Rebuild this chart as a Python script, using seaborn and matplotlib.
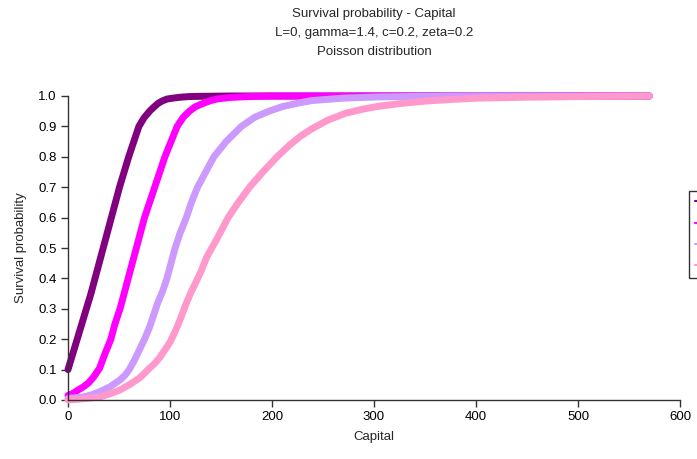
import matplotlib
matplotlib.use("Agg")
import matplotlib.pyplot as plt
import seaborn as sns
import pandas as pd
from matplotlib.lines import Line2D

# ---- data ----
series_names = ["Series1", "Series2", "Series3", "Series4"]
colors = ["#800080", "#FF00FF", "#CC99FF", "#FF99CC"]

x_s1 = [0, 4.5, 9, 13.5, 18, 22.5, 26.5, 30.5, 34.5, 38.5, 42.5, 46.5, 50.5, 55, 59.5, 64.5,
        69.5, 74.5, 80, 84, 88, 92, 97, 103, 110, 118, 130, 160, 200, 300, 400, 500, 570]
y_s1 = [0.1, 0.15, 0.2, 0.25, 0.3, 0.35, 0.4, 0.45, 0.5, 0.55, 0.6, 0.65, 0.7, 0.75, 0.8, 0.85,
        0.9, 0.928, 0.95, 0.963, 0.975, 0.983, 0.99, 0.993, 0.996, 0.998, 0.999, 1.0, 1.0, 1.0,
        1.0, 1.0, 1.0]

x_s2 = [0, 5, 10, 15, 20, 25, 28, 31, 36, 42, 46, 51, 55, 59, 63, 67, 71, 75, 80, 85, 90, 95,
        101, 107, 113, 119, 125, 132, 139, 146, 158, 170, 185, 200, 300, 400, 500, 570]
y_s2 = [0.015, 0.022, 0.033, 0.043, 0.056, 0.075, 0.09, 0.105, 0.15, 0.2, 0.25, 0.3, 0.35, 0.4,
        0.45, 0.5, 0.55, 0.6, 0.65, 0.7, 0.75, 0.8, 0.85, 0.9, 0.93, 0.95, 0.965, 0.975, 0.984,
        0.99, 0.995, 0.997, 0.999, 1.0, 1.0, 1.0, 1.0, 1.0]

x_s3 = [0, 15, 23, 31, 41, 51, 56, 60, 65, 70, 75, 80, 84, 88, 93, 97, 101, 105, 110, 116, 121,
        127, 135, 143, 155, 170, 183, 197, 210, 226, 239, 270, 304, 350, 400, 500, 570]
y_s3 = [0.005, 0.01, 0.017, 0.027, 0.043, 0.066, 0.082, 0.1, 0.13, 0.165, 0.2, 0.24, 0.28, 0.32,
        0.36, 0.4, 0.45, 0.5, 0.55, 0.6, 0.65, 0.7, 0.75, 0.8, 0.85, 0.9, 0.93, 0.95, 0.965,
        0.977, 0.985, 0.993, 0.997, 0.999, 1.0, 1.0, 1.0]

x_s4 = [0, 15, 31, 41, 51, 60, 70, 75, 80, 85, 90, 95, 100, 105, 110, 115, 120, 125, 130, 136,
        146, 157, 167, 178, 191, 205, 217, 228, 239, 255, 272, 288, 304, 328, 353, 378, 402, 450,
        500, 570]
y_s4 = [0.0, 0.004, 0.01, 0.02, 0.033, 0.05, 0.072, 0.088, 0.105, 0.12, 0.14, 0.165, 0.19, 0.225,
        0.265, 0.31, 0.35, 0.385, 0.42, 0.47, 0.53, 0.6, 0.65, 0.7, 0.75, 0.8, 0.838, 0.868, 0.892,
        0.921, 0.943, 0.956, 0.966, 0.976, 0.984, 0.989, 0.993, 0.996, 0.998, 1.0]

title_lines = ["Survival probability - Capital",
               "L=0, gamma=1.4, c=0.2, zeta=0.2",
               "Poisson distribution"]
x_ticks = [0, 100, 200, 300, 400, 500, 600]
y_ticks = [0.0, 0.1, 0.2, 0.3, 0.4, 0.5, 0.6, 0.7, 0.8, 0.9, 1.0]

# ---- build long table ----
frames = []
for name, xs, ys in zip(series_names, [x_s1, x_s2, x_s3, x_s4], [y_s1, y_s2, y_s3, y_s4]):
    frames.append(pd.DataFrame({"Capital": xs, "Survival probability": ys, "series": name}))
df = pd.concat(frames, ignore_index=True)

sns.set_theme(style="white")
plt.rcParams["font.family"] = ["Liberation Sans", "DejaVu Sans"]

W, H = 697, 459
fig = plt.figure(figsize=(W / 100, H / 100), dpi=100)
ax = fig.add_axes([68 / W, 1 - 400 / H, 612 / W, 304 / H])

sns.lineplot(data=df, x="Capital", y="Survival probability", hue="series",
             palette=dict(zip(series_names, colors)), hue_order=series_names,
             linewidth=5.0, ax=ax, legend=False, sort=False, estimator=None)
for line in ax.lines:
    line.set_solid_capstyle("round")
    line.set_solid_joinstyle("round")
    line.set_clip_on(False)

ax.set_xlim(0, 600)
ax.set_ylim(0, 1.0)
ax.set_xticks(x_ticks)
ax.set_yticks(y_ticks)
ax.set_xticklabels([str(t) for t in x_ticks], fontsize=9.5)
ax.set_yticklabels([f"{t:.1f}" for t in y_ticks], fontsize=9.5)
ax.set_xlabel("Capital", fontsize=9.5, labelpad=6)
ax.set_ylabel("Survival probability", fontsize=9.5, labelpad=8)
for s in ["top", "right"]:
    ax.spines[s].set_visible(False)
for s in ["left", "bottom"]:
    ax.spines[s].set_color("#333333")
    ax.spines[s].set_linewidth(1.0)
ax.tick_params(axis="both", direction="out", length=5, width=1, color="#333333",
               colors="black", pad=3, bottom=True, left=True)

for i, t in enumerate(title_lines):
    fig.text(374 / W, 1 - (14 + 19 * i) / H, t, ha="center", va="center", fontsize=9.5)

# legend is cut off at the right edge in the reference: only line samples are visible
handles = [Line2D([0], [0], color=c, lw=1.5, marker="D", markersize=3) for c in colors]
leg = fig.legend(handles, [" "] * 4, loc="upper left",
                 bbox_to_anchor=(689 / W, 1 - 191 / H), fontsize=9,
                 frameon=True, fancybox=False, borderpad=0.45, labelspacing=0.75,
                 handlelength=2.0, handletextpad=4.0, borderaxespad=0)
leg.get_frame().set_edgecolor("black")
leg.get_frame().set_linewidth(1.0)

fig.savefig("out.png", dpi=100)
